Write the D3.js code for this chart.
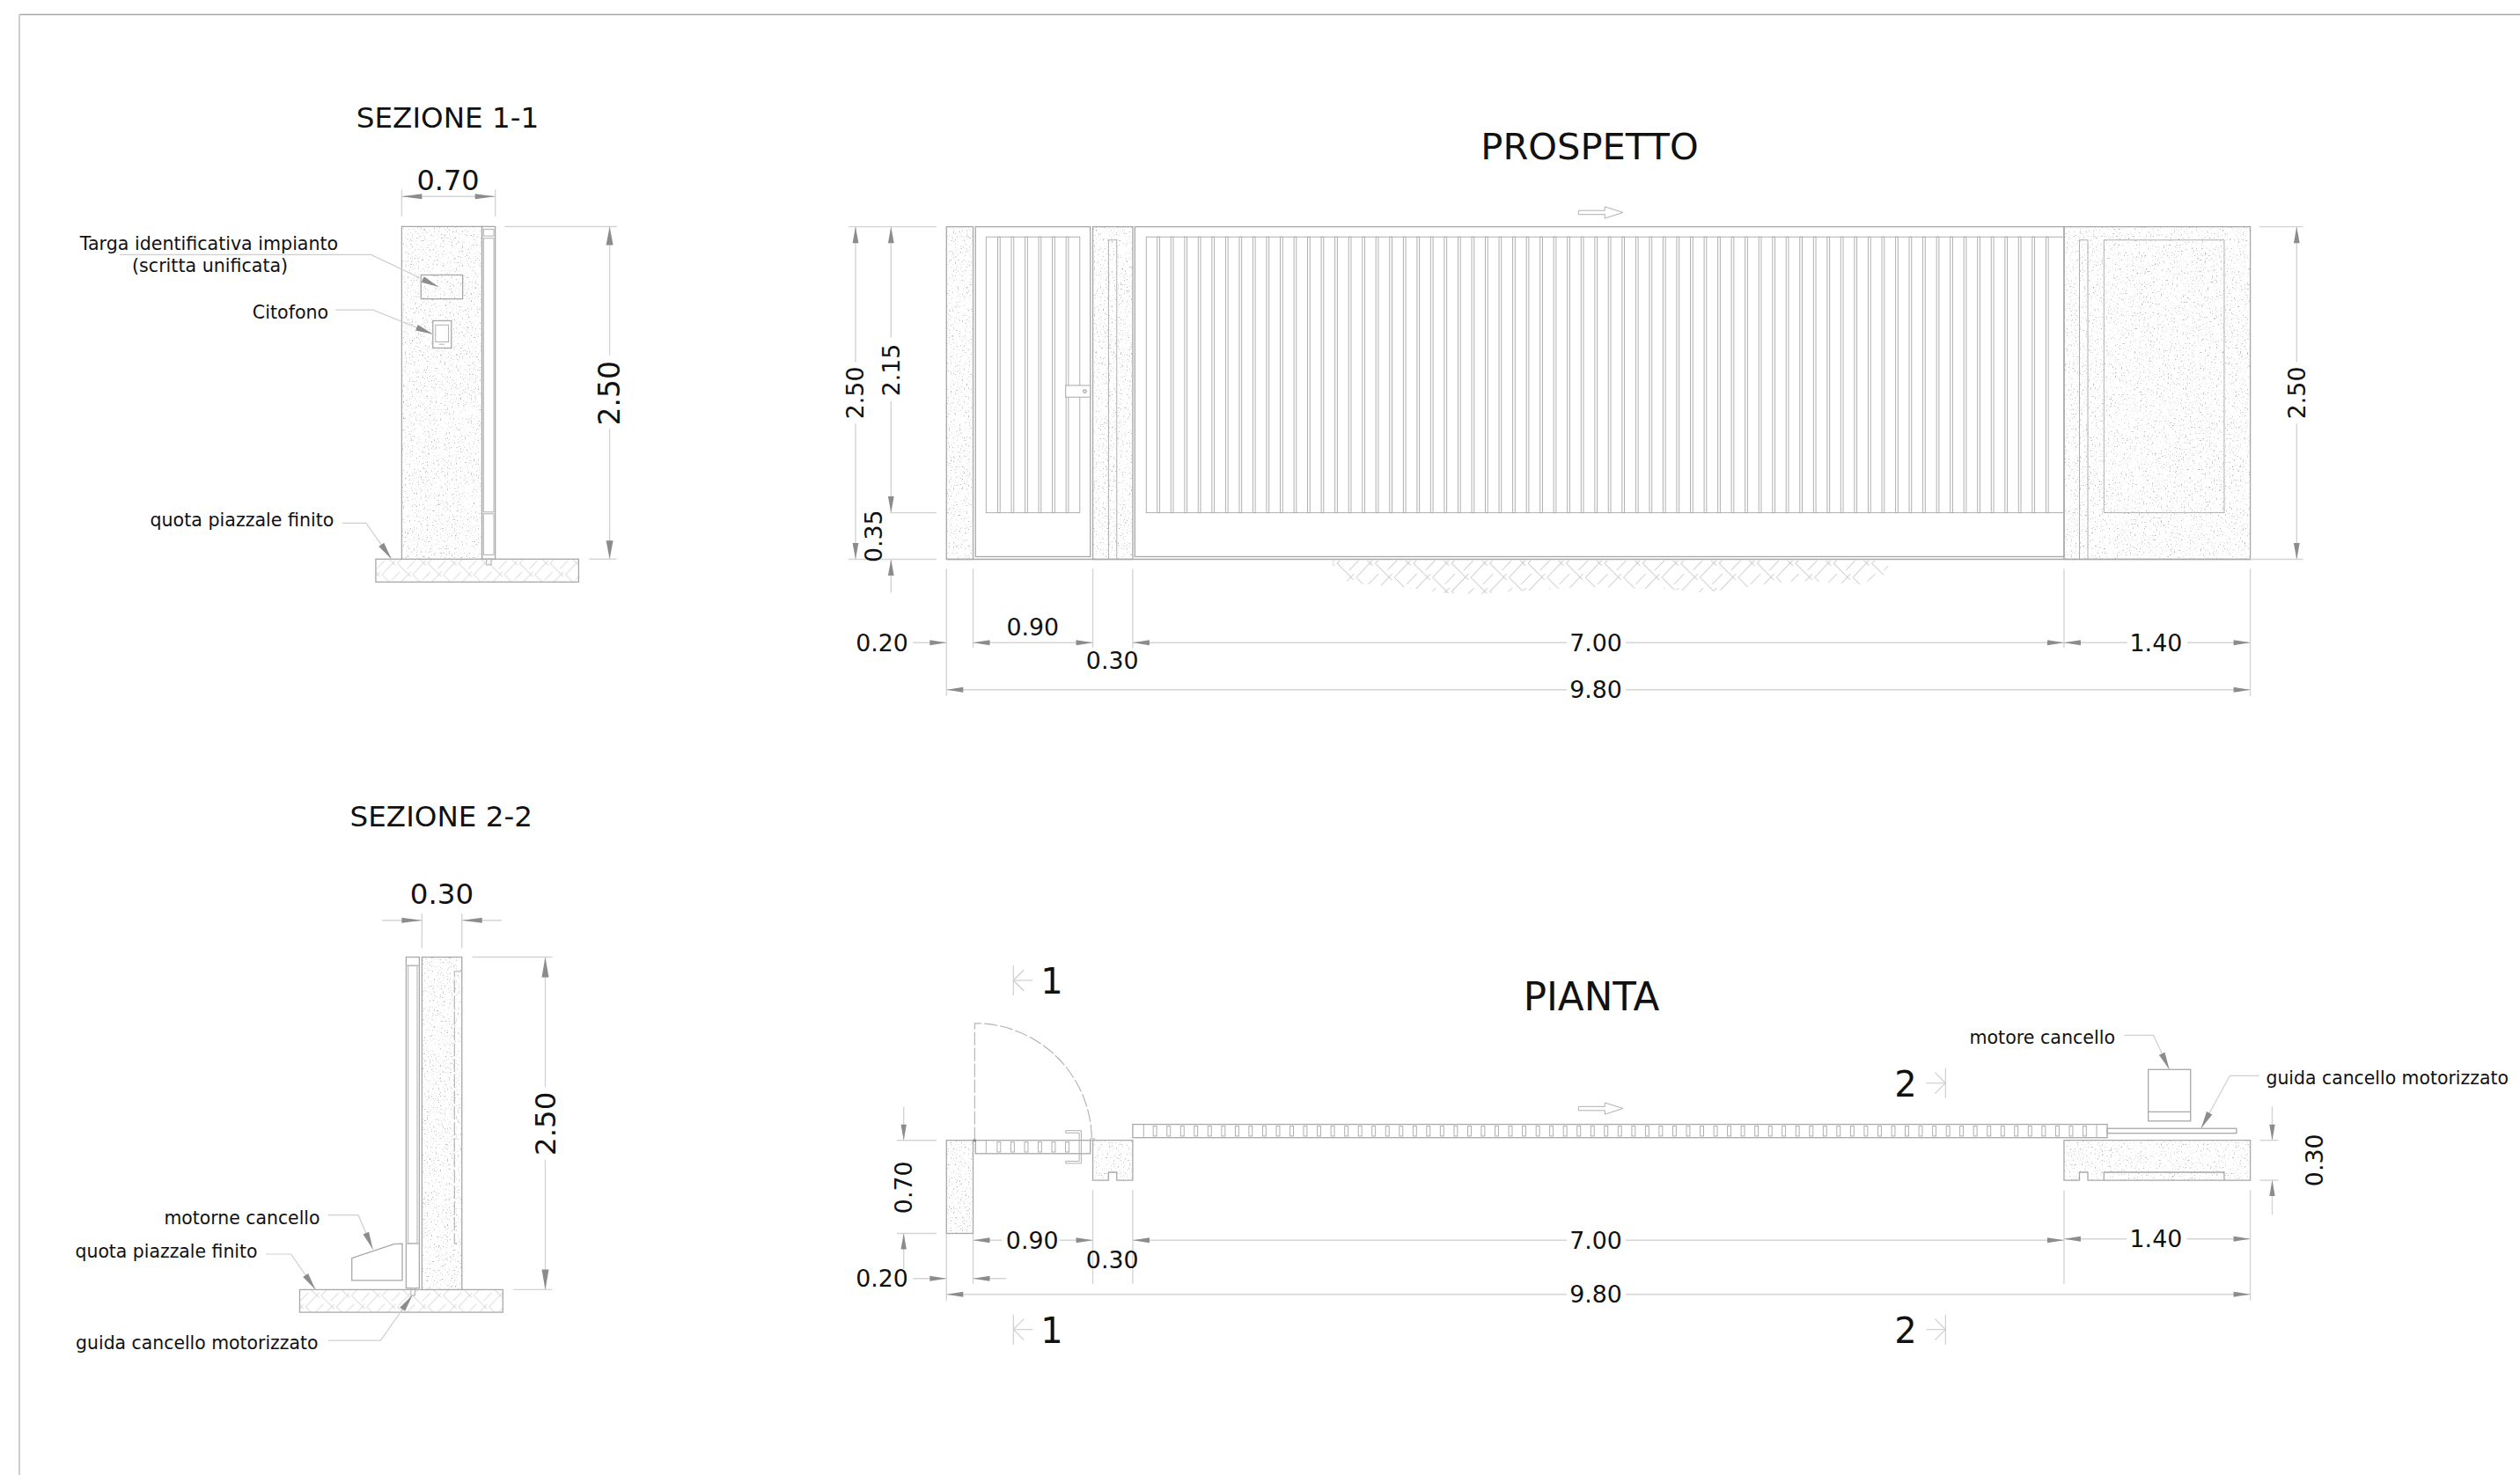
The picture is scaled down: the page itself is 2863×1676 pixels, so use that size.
<!DOCTYPE html>
<html>
<head>
<meta charset="utf-8">
<script src="https://cdn.jsdelivr.net/npm/d3@7"></script>
<style>
  html, body { margin: 0; background: #fff; }
  text { font-family: "DejaVu Sans", sans-serif; fill: #111; }
  .o { fill: none; stroke: #a8a8a8; stroke-width: 1.3; }
  .w { fill: #fff; stroke: #a8a8a8; stroke-width: 1.3; }
  .thin { fill: none; stroke: #b0b0b0; stroke-width: 1; }
  .dim { fill: none; stroke: #d4d4d4; stroke-width: 1.4; }
  .lead { fill: none; stroke: #cfcfcf; stroke-width: 1.2; }
  .dash { fill: none; stroke: #b0b0b0; stroke-width: 1.1; stroke-dasharray: 15 3; }
  .head { fill: #8c8c8c; stroke: none; }
  .sp { fill: #fff; stroke: none; filter: url(#speckle); }
</style>
</head>
<body>
<svg id="sheet" width="2863" height="1676"></svg>
<script>
// measures on the drawing, in metres
let spanWidths = [0.20, 0.90, 0.30, 7.00, 1.40];
let totalWidth = 9.80;
let wallHeight = 2.50;
let panelHeight = 2.15;
let plinthHeight = 0.35;
let pierDepthLeft = 0.70;
let pierDepthOther = 0.30;

// gate uprights, left edge in metres from the left end of the wall
let doorBars = [0.385, 0.488, 0.591, 0.693, 0.796, 0.899];
let gateBars = [1.584, 1.687, 1.790, 1.892, 1.995, 2.098, 2.201, 2.303, 2.406, 2.509, 2.612,
  2.714, 2.817, 2.920, 3.023, 3.126, 3.228, 3.331, 3.434, 3.537, 3.639, 3.742, 3.845, 3.948,
  4.050, 4.153, 4.256, 4.359, 4.462, 4.564, 4.667, 4.770, 4.873, 4.975, 5.078, 5.181, 5.284,
  5.386, 5.489, 5.592, 5.695, 5.798, 5.900, 6.003, 6.106, 6.209, 6.311, 6.414, 6.517, 6.620,
  6.722, 6.825, 6.928, 7.031, 7.134, 7.236, 7.339, 7.442, 7.545, 7.647, 7.750, 7.853, 7.956,
  8.058, 8.161, 8.264];
let gateBarsPlanExtra = [8.367, 8.470, 8.572];

let fmt = d3.format('.2f');
let svg = d3.select('#sheet');
let defs = svg.append('defs');
let ppm = 151.15;

// speckle for the concrete
let f = defs.append('filter').attr('id', 'speckle')
  .attr('x', 0).attr('y', 0).attr('width', 1).attr('height', 1)
  .attr('color-interpolation-filters', 'sRGB');
f.append('feTurbulence').attr('type', 'fractalNoise').attr('baseFrequency', 0.6)
  .attr('numOctaves', 2).attr('seed', 4).attr('result', 'n');
f.append('feColorMatrix').attr('in', 'n').attr('type', 'matrix')
  .attr('values', '0 0 0 0 0.72  0 0 0 0 0.72  0 0 0 0 0.72  6 0 0 0 -3.75').attr('result', 'd');
f.append('feComposite').attr('in', 'd').attr('in2', 'SourceGraphic').attr('operator', 'in').attr('result', 'c');
f.append('feMerge').call(m => {
  m.append('feMergeNode').attr('in', 'SourceGraphic');
  m.append('feMergeNode').attr('in', 'c');
});

// herringbone: the same motif repeated on a staggered lattice
function hatch(id, k, col) {
  let w = 43.4 * k, h = 32 * k, d = '';
  let motif = (ox, oy) => {
    let s = (a, b, c, e) => `M${ox + a * k},${oy + b * k}L${ox + c * k},${oy + e * k}`;
    d += s(0, 0, 19, 19) + s(-2.5, -4, -21.4, 16) + s(-17.9, -4, -29.6, 8);
  };
  [-1, 0, 1, 2].forEach(i => [-1, 0, 1, 2].forEach(j => {
    motif(i * w, j * h);
    motif(i * w + w / 2, j * h + h / 2);
  }));
  defs.append('pattern').attr('id', id).attr('patternUnits', 'userSpaceOnUse')
    .attr('width', w).attr('height', h)
    .append('path').attr('d', d).attr('fill', 'none').attr('stroke', col).attr('stroke-width', 1);
}
hatch('slab', 0.8, '#dadada');
hatch('soil', 1, '#cbcbcb');

function view(ox, oy, up) {
  return {
    x: d3.scaleLinear().domain([0, 1]).range([ox, ox + ppm]),
    y: d3.scaleLinear().domain([0, 1]).range([oy, oy + (up ? -ppm : ppm)])
  };
}

function box(g, v, x0, x1, y0, y1, cls) {
  let a = v.x(x0), b = v.x(x1), c = v.y(y0), d = v.y(y1);
  return g.append('rect').attr('class', cls)
    .attr('x', Math.min(a, b)).attr('y', Math.min(c, d))
    .attr('width', Math.abs(b - a)).attr('height', Math.abs(d - c));
}
function speckled(g, v, x0, x1, y0, y1) {
  box(g, v, x0, x1, y0, y1, 'sp');
  box(g, v, x0, x1, y0, y1, 'o');
}
function poly(g, v, pts, cls, closed) {
  let l = d3.line().x(d => v.x(d[0])).y(d => v.y(d[1]));
  return g.append('path').attr('class', cls).attr('d', l(pts) + (closed ? 'Z' : ''));
}
function seg(x1, y1, x2, y2, cls) {
  svg.append('line').attr('class', cls || 'dim')
    .attr('x1', x1).attr('y1', y1).attr('x2', x2).attr('y2', y2);
}
// arrow head with tip at x,y, pointing along angle (degrees)
function head(x, y, angle, len, hw) {
  svg.append('path').attr('class', 'head')
    .attr('d', `M0,0L${-(len || 19)},${-(hw || 3)}L${-(len || 19)},${hw || 3}Z`)
    .attr('transform', `translate(${x},${y}) rotate(${angle})`);
}
function label(str, x, y, size, rot, anchor) {
  let t = svg.append('text').text(str).attr('font-size', size)
    .attr('text-anchor', anchor || 'middle').attr('dy', '0.36em');
  if (rot) t.attr('transform', `translate(${x},${y}) rotate(-90)`);
  else t.attr('x', x).attr('y', y);
}
function leader(pts, len) {
  let l = d3.line();
  svg.append('path').attr('class', 'lead').attr('d', l(pts));
  let a = pts[pts.length - 2], b = pts[pts.length - 1];
  head(b[0], b[1], Math.atan2(b[1] - a[1], b[0] - a[0]) * 180 / Math.PI, len || 20, 3.6);
}
function cut(name, xt, xl, yc, dir) {
  seg(xl, yc - 17, xl, yc + 17, 'lead');
  seg(xl, yc, xl + dir * 22, yc, 'lead');
  seg(xl, yc, xl + dir * 12, yc - 12, 'lead');
  seg(xl, yc, xl + dir * 12, yc + 12, 'lead');
  label(name, xt, yc + 1, 40);
}

// sheet border
seg(22, 16.5, 2863, 16.5, 'o');
svg.append('line').attr('x1', 22).attr('y1', 16).attr('x2', 22).attr('y2', 1676)
  .attr('stroke', '#cfcfcf').attr('stroke-width', 2);

// ---------- PROSPETTO ----------
let P = view(1075.3, 635.5, true);
let edges = [0].concat(Array.from(d3.cumsum(spanWidths)));
let gP = svg.append('g');

speckled(gP, P, edges[0], edges[1], 0, wallHeight);
speckled(gP, P, edges[2], edges[3], 0, wallHeight);
speckled(gP, P, edges[4], edges[5], 0, wallHeight);
box(gP, P, 1.218, 1.280, 0, 2.40, 'thin');
box(gP, P, 8.516, 8.579, 0, 2.40, 'thin');
box(gP, P, 8.70, 9.604, plinthHeight, 2.40, 'thin');

box(gP, P, 0.218, 1.081, 0.02, wallHeight, 'o');
box(gP, P, 0.298, 1.002, plinthHeight, plinthHeight + 2.073, 'thin');
doorBars.forEach(d => box(gP, P, d, d + 0.018, plinthHeight, plinthHeight + 2.073, 'thin'));
box(gP, P, 0.896, 1.081, 1.219, 1.307, 'w').style('stroke-width', 1);
gP.append('circle').attr('class', 'o').attr('cx', P.x(1.04)).attr('cy', P.y(1.263)).attr('r', 1.8);

box(gP, P, 1.416, edges[4], 0.02, wallHeight, 'o');
box(gP, P, 1.502, edges[4], plinthHeight, plinthHeight + 2.073, 'thin');
gateBars.forEach(d => box(gP, P, d, d + 0.018, plinthHeight, plinthHeight + 2.073, 'thin'));
seg(P.x(0), P.y(0), P.x(totalWidth), P.y(0), 'o');

// sliding direction arrow
function slideArrow(cy) {
  let x0 = 1793.3;
  svg.append('path').attr('class', 'thin')
    .attr('d', `M${x0},${cy - 2.2}h30v-4.3l20.7,6.5l-20.7,6.7v-4.4h-30Z`);
}
slideArrow(241.4);

// soil hatch under the gate
let soilEdge = [[1513.8,637],[1513.8,641.7],[1531.6,661.7],[1559.7,665],[1587.8,666],[1608,669.3],
  [1638.8,674],[1682,675],[1723,671.7],[1762,669.3],[1802,666.7],[1845,668.3],[1889,669.3],
  [1934.7,673.3],[1988,666.7],[2011,662.7],[2052,660],[2113,664],[2133.7,656.7],[2146.4,650],[2144,637]];
svg.append('path').attr('d', d3.line()(soilEdge) + 'Z').attr('fill', 'url(#soil)');

label('PROSPETTO', 1806, 166, 41.6);

// left verticals
seg(964, P.y(wallHeight), 1064, P.y(wallHeight));
seg(964, P.y(0), 1064, P.y(0));
seg(1011, P.y(plinthHeight), 1064, P.y(plinthHeight));
seg(972, P.y(wallHeight), 972, 411.3); seg(972, 481.6, 972, P.y(0));
head(972, P.y(wallHeight), -90, 18.5, 3.4); head(972, P.y(0), 90, 18.5, 3.4);
label(fmt(wallHeight), 971, 446.4, 26.8, true);
seg(1012.3, P.y(wallHeight), 1012.3, 383.5); seg(1012.3, 455.7, 1012.3, P.y(plinthHeight));
head(1012.3, P.y(wallHeight), -90, 18.5, 3.4); head(1012.3, P.y(plinthHeight), 90, 18.5, 3.4);
label(fmt(panelHeight), 1012, 420.5, 26.8, true);
seg(1012.3, P.y(0), 1012.3, 673.2);
head(1012.3, P.y(0), -90, 18.5, 3.4);
label(fmt(plinthHeight), 992.7, 609.2, 26.8, true);

// right vertical
seg(2566.7, P.y(wallHeight), 2616.7, P.y(wallHeight));
seg(P.x(totalWidth), P.y(0), 2616.7, P.y(0));
seg(2609.3, P.y(wallHeight), 2609.3, 411.3); seg(2609.3, 481.6, 2609.3, P.y(0));
head(2609.3, P.y(wallHeight), -90, 18.5, 3.4); head(2609.3, P.y(0), 90, 18.5, 3.4);
label(fmt(wallHeight), 2609, 446.4, 26.8, true);

// horizontals under an elevation or plan
function runDims(v, yDim, yTotal, topY, opts) {
  edges.forEach((e, i) => {
    let isEnd = i === 0 || i === edges.length - 1;
    let yTop = opts.extTop ? opts.extTop[i] : topY;
    seg(v.x(e), yTop, v.x(e), isEnd ? yTotal + 7 : yDim + 6);
  });
  // 0.20
  seg(1037.3, yDim, v.x(edges[0]), yDim);
  head(v.x(edges[0]), yDim, 0);
  label(fmt(spanWidths[0]), 1002, yDim, 26.8);
  if (opts.stub !== undefined) {
    seg(v.x(edges[1]), yDim + opts.stub, 1143.3, yDim + opts.stub);
    head(v.x(edges[1]), yDim + opts.stub, 180);
  }
}

runDims(P, 730.2, 783.8, 646.2, {});
// 0.90
seg(P.x(edges[1]), 730.2, P.x(edges[2]), 730.2);
head(P.x(edges[1]), 730.2, 180); head(P.x(edges[2]), 730.2, 0);
label(fmt(spanWidths[1]), 1173.3, 712.8, 26.8);
// 0.30 and 7.00
label(fmt(spanWidths[2]), 1263.7, 750.5, 26.8);
seg(P.x(edges[3]), 730.2, 1780, 730.2); seg(1847, 730.2, P.x(edges[4]), 730.2);
head(P.x(edges[3]), 730.2, 180); head(P.x(edges[4]), 730.2, 0);
label(fmt(spanWidths[3]), 1813, 730.2, 26.8);
// 1.40
seg(P.x(edges[4]), 730.2, 2416.7, 730.2); seg(2485, 730.2, P.x(edges[5]), 730.2);
head(P.x(edges[4]), 730.2, 180); head(P.x(edges[5]), 730.2, 0);
label(fmt(spanWidths[4]), 2449.4, 730.2, 26.8);
// 9.80
seg(P.x(0), 783.8, 1780, 783.8); seg(1847, 783.8, P.x(totalWidth), 783.8);
head(P.x(0), 783.8, 180); head(P.x(totalWidth), 783.8, 0);
label(fmt(totalWidth), 1813, 783.8, 26.8);

// ---------- PIANTA ----------
let N = view(1075.3, 1295.7, false);
let gN = svg.append('g');
label('PIANTA', 1808, 1132, 43.6);

speckled(gN, N, edges[0], edges[1], 0, pierDepthLeft);
// middle pier and right pier with notch
let midNotch = [[edges[2], 0], [edges[3], 0], [edges[3], pierDepthOther], [1.280, pierDepthOther],
  [1.280, 0.24], [1.218, 0.24], [1.218, pierDepthOther], [edges[2], pierDepthOther]];
poly(gN, N, midNotch, 'sp', true);
poly(gN, N, midNotch, 'o', true);
let rightNotch = [[edges[4], 0], [edges[5], 0], [edges[5], pierDepthOther], [8.579, pierDepthOther],
  [8.579, 0.24], [8.516, 0.24], [8.516, pierDepthOther], [edges[4], pierDepthOther]];
poly(gN, N, rightNotch, 'sp', true);
poly(gN, N, rightNotch, 'o', true);
poly(gN, N, [[8.70, pierDepthOther], [8.70, 0.24], [9.604, 0.24], [9.604, pierDepthOther]], 'o');

// door leaf
box(gN, N, 0.218, 1.081, 0, 0.10, 'o');
seg(N.x(0.298), N.y(0), N.x(0.298), N.y(0.10), 'thin');
doorBars.forEach(d => box(gN, N, d - 0.004, d + 0.022, 0.013, 0.088, 'thin'));
poly(gN, N, [[0.896, -0.073], [1.013, -0.073], [1.013, 0.173], [0.896, 0.173], [0.896, 0.157],
  [0.998, 0.157], [0.998, -0.056], [0.896, -0.056], [0.896, -0.073]], 'thin');
gN.append('circle').attr('cx', N.x(0.212)).attr('cy', N.y(0)).attr('r', 1.6).attr('fill', '#777');
box(gN, N, 1.081, 1.112, -0.012, 0, 'thin');

// door swing
let swing = d3.path();
swing.moveTo(N.x(0.212), N.y(0));
swing.lineTo(N.x(0.212), N.y(-0.88));
swing.arc(N.x(0.212), N.y(0), ppm * 0.88, -Math.PI / 2, -0.02);
gN.append('path').attr('class', 'dash').attr('d', swing.toString());

// sliding leaf
box(gN, N, 1.40, 8.725, -0.12, -0.02, 'o');
seg(N.x(1.482), N.y(-0.12), N.x(1.482), N.y(-0.02), 'thin');
seg(N.x(8.645), N.y(-0.12), N.x(8.645), N.y(-0.02), 'thin');
gateBars.concat(gateBarsPlanExtra).forEach(d =>
  box(gN, N, d - 0.030, d - 0.004, -0.107, -0.032, 'thin'));

// rail and motor
box(gN, N, 8.725, 9.696, -0.089, -0.053, 'o');
box(gN, N, 9.033, 9.351, -0.532, -0.145, 'o');
seg(N.x(9.033), N.y(-0.214), N.x(9.351), N.y(-0.214), 'o');
slideArrow(1259.5);

// plan dimensions
runDims(N, 1452.7, 1470.7, 1352.3, {
  extTop: [1401.7, 1401.7, 1352.3, 1352.3, 1352.7, 1352.7],
  stub: 0
});
seg(N.x(edges[1]), 1409.3, 1138.3, 1409.3); seg(1204, 1409.3, N.x(edges[2]), 1409.3);
head(N.x(edges[1]), 1409.3, 180); head(N.x(edges[2]), 1409.3, 0);
label(fmt(spanWidths[1]), 1172.7, 1409.3, 26.8);
label(fmt(spanWidths[2]), 1263.7, 1431.7, 26.8);
seg(N.x(edges[3]), 1409.3, 1780, 1409.3); seg(1847, 1409.3, N.x(edges[4]), 1409.3);
head(N.x(edges[3]), 1409.3, 180); head(N.x(edges[4]), 1409.3, 0);
label(fmt(spanWidths[3]), 1813, 1409.3, 26.8);
seg(N.x(edges[4]), 1407.7, 2416, 1407.7); seg(2484.6, 1407.7, N.x(edges[5]), 1407.7);
head(N.x(edges[4]), 1407.7, 180); head(N.x(edges[5]), 1407.7, 0);
label(fmt(spanWidths[4]), 2449.4, 1407.7, 26.8);
seg(N.x(0), 1470.7, 1780, 1470.7); seg(1847, 1470.7, N.x(totalWidth), 1470.7);
head(N.x(0), 1470.7, 180); head(N.x(totalWidth), 1470.7, 0);
label(fmt(totalWidth), 1813, 1470.7, 26.8);

// 0.70 left pier depth
seg(1019, N.y(0), 1064, N.y(0));
seg(1019, N.y(pierDepthLeft), 1064, N.y(pierDepthLeft));
seg(1026.7, 1257.7, 1026.7, N.y(0)); seg(1026.7, N.y(pierDepthLeft), 1026.7, 1441.7);
head(1026.7, N.y(0), 90, 18, 3.2); head(1026.7, N.y(pierDepthLeft), -90, 18, 3.2);
label(fmt(pierDepthLeft), 1026.7, 1349.3, 26.8, true);
// 0.30 right pier depth
seg(2567.4, N.y(0), 2588.5, N.y(0));
seg(2567.4, N.y(pierDepthOther), 2588.5, N.y(pierDepthOther));
seg(2581.5, 1257.3, 2581.5, N.y(0)); seg(2581.5, N.y(pierDepthOther), 2581.5, 1380);
head(2581.5, N.y(0), 90, 18, 3.2); head(2581.5, N.y(pierDepthOther), -90, 18, 3.2);
label(fmt(pierDepthOther), 2629, 1318.3, 26.8, true);

cut('1', 1195, 1151.3, 1114, 1);
cut('1', 1195, 1151.3, 1510.7, 1);
cut('2', 2165, 2210.3, 1230.7, -1);
cut('2', 2165, 2210.3, 1510.7, -1);

leader([[2413.4, 1176.3], [2446.6, 1176.3], [2464.6, 1215.3]]);
label('motore cancello', 2403, 1179, 20.6, false, 'end');
leader([[2566.7, 1222.3], [2533.4, 1222.3], [2500.6, 1282.3]]);
label('guida cancello motorizzato', 2574.5, 1225, 20.4, false, 'start');

// ---------- SEZIONE 1-1 ----------
let A = view(456.4, 635.3, true);
let gA = svg.append('g');
label('SEZIONE 1-1', 508.5, 133, 32.6);

box(gA, A, -0.195, 1.33, 0, -0.172, 'o').style('fill', 'url(#slab)');
speckled(gA, A, 0, 0.603, 0, wallHeight);
box(gA, A, 0.603, 0.703, 0, wallHeight, 'o');
box(gA, A, 0.615, 0.692, 2.429, 2.48, 'thin');
box(gA, A, 0.615, 0.692, 0.354, 2.412, 'thin');
box(gA, A, 0.615, 0.692, 0.032, 0.341, 'thin');
box(gA, A, 0.637, 0.673, 0, -0.043, 'thin');
box(gA, A, 0.145, 0.458, 1.956, 2.136, 'w').style('fill', 'none');
box(gA, A, 0.234, 0.373, 1.587, 1.792, 'w');
box(gA, A, 0.254, 0.352, 1.633, 1.76, 'thin');
seg(A.x(0.28), A.y(1.615), A.x(0.321), A.y(1.615), 'thin');

seg(A.x(0), 215.5, A.x(0), 246);
seg(A.x(0.703), 215.5, A.x(0.703), 246);
seg(A.x(0), 223.2, A.x(0.703), 223.2);
head(A.x(0), 223.2, 180, 23, 3); head(A.x(0.703), 223.2, 0, 23, 3);
label(fmt(pierDepthLeft), 509, 204, 32);

seg(573.4, A.y(wallHeight), 700.6, A.y(wallHeight));
seg(669.4, A.y(0), 700.6, A.y(0));
seg(692.6, A.y(wallHeight), 692.6, 403.8); seg(692.6, 487.2, 692.6, A.y(0));
head(692.6, A.y(wallHeight), -90, 21, 4); head(692.6, A.y(0), 90, 21, 4);
label(fmt(wallHeight), 692.6, 446.7, 33, true);

leader([[136, 289.4], [421.6, 289.4], [498.4, 326]]);
leader([[381.4, 352.2], [423.8, 352.2], [492, 379.7]]);
leader([[389, 594.4], [416, 594.4], [444.8, 635.3]]);
label('Targa identificativa impianto', 237.5, 276.4, 20.6);
label('(scritta unificata)', 238.6, 301.2, 20.6);
label('Citofono', 330, 354.8, 20.6);
label('quota piazzale finito', 275, 590.6, 20.6);

// ---------- SEZIONE 2-2 ----------
let B = view(479.4, 1465.4, true);
let gB = svg.append('g');
label('SEZIONE 2-2', 501.3, 927.6, 32.6);

box(gB, B, -0.919, 0.608, 0, -0.17, 'o').style('fill', 'url(#slab)');
speckled(gB, B, 0, 0.30, 0, wallHeight);
box(gB, B, -0.119, -0.02, 0.012, wallHeight, 'o');
box(gB, B, -0.104, -0.036, 0.347, 2.436, 'thin');
seg(B.x(-0.119), B.y(2.436), B.x(-0.02), B.y(2.436), 'thin');
seg(B.x(-0.119), B.y(0.347), B.x(-0.02), B.y(0.347), 'thin');
box(gB, B, -0.083, -0.053, 0.012, -0.044, 'thin');
poly(gB, B, [[0.30, 2.393], [0.244, 2.393], [0.244, 0.347], [0.30, 0.347]], 'dash');
poly(gB, B, [[-0.527, 0.237], [-0.211, 0.343], [-0.148, 0.346], [-0.148, 0.07], [-0.527, 0.07]], 'o', true);

seg(434.3, 1045.7, B.x(0), 1045.7); seg(B.x(0.30), 1045.7, 570, 1045.7);
seg(B.x(0), 1038, B.x(0), 1077.5); seg(B.x(0.30), 1038, B.x(0.30), 1077.5);
head(B.x(0), 1045.7, 0, 23, 3); head(B.x(0.30), 1045.7, 180, 23, 3);
label(fmt(pierDepthOther), 502, 1015, 32.5);

seg(536.5, B.y(wallHeight), 627.5, B.y(wallHeight));
seg(583, B.y(0), 627.5, B.y(0));
seg(619.5, B.y(wallHeight), 619.5, 1235.7); seg(619.5, 1317.9, 619.5, B.y(0));
head(619.5, B.y(wallHeight), -90, 23, 4); head(619.5, B.y(0), 90, 23, 4);
label(fmt(wallHeight), 619.5, 1276.8, 32.5, true);

leader([[372.7, 1380.7], [407.1, 1380.7], [423.6, 1419.6]]);
leader([[302.2, 1425], [330.6, 1425], [358.5, 1465.4]]);
leader([[372.7, 1523.2], [432.4, 1523.2], [468.7, 1471.4]]);
label('motorne cancello', 275, 1384, 20.4);
label('quota piazzale finito', 189, 1421.4, 20.4);
label('guida cancello motorizzato', 223.8, 1526, 20.4);
</script>
</body>
</html>
